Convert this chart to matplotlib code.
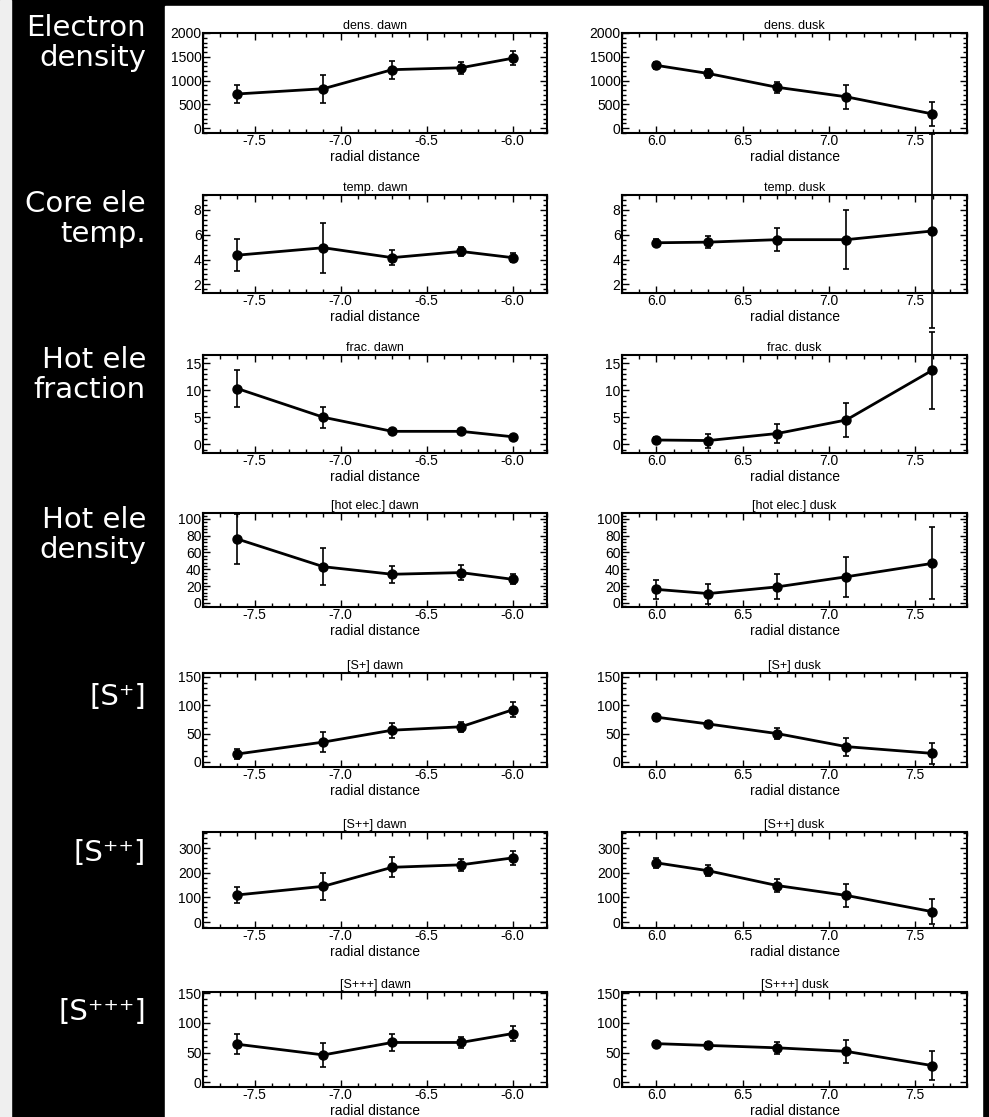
import matplotlib.pyplot as plt
from matplotlib.patches import Rectangle
from matplotlib.ticker import MultipleLocator, AutoMinorLocator

W, H = 989, 1117

# radial distance of the bins
x_dawn = [-7.6, -7.1, -6.7, -6.3, -6.0]
x_dusk = [6.0, 6.3, 6.7, 7.1, 7.6]

dens_dawn = [720, 830, 1230, 1270, 1470]
dens_dawn_err = [190, 290, 190, 130, 150]
dens_dusk = [1320, 1150, 860, 660, 300]
dens_dusk_err = [80, 90, 110, 250, 260]

temp_dawn = [4.35, 4.95, 4.15, 4.65, 4.15]
temp_dawn_err = [1.3, 2.0, 0.6, 0.35, 0.35]
temp_dusk = [5.35, 5.4, 5.6, 5.6, 6.3]
temp_dusk_err = [0.3, 0.5, 0.95, 2.4, 7.8]

frac_dawn = [10.3, 5.0, 2.4, 2.4, 1.4]
frac_dawn_err = [3.4, 1.9, 0.5, 0.5, 0.4]
frac_dusk = [0.8, 0.7, 2.0, 4.5, 13.7]
frac_dusk_err = [0.6, 1.3, 1.8, 3.2, 7.1]

hot_dawn = [76, 43, 34, 36, 28]
hot_dawn_err = [30, 22, 10, 9, 6]
hot_dusk = [16, 11, 19, 31, 47]
hot_dusk_err = [11, 12, 15, 24, 43]

sp_dawn = [14, 35, 56, 62, 92]
sp_dawn_err = [8, 17, 13, 9, 13]
sp_dusk = [79, 67, 50, 27, 15]
sp_dusk_err = [6, 6, 9, 16, 18]

s2p_dawn = [110, 145, 222, 232, 260]
s2p_dawn_err = [31, 55, 40, 25, 28]
s2p_dusk = [240, 208, 148, 108, 42]
s2p_dusk_err = [20, 22, 25, 45, 50]

s3p_dawn = [64, 46, 67, 67, 82]
s3p_dawn_err = [17, 20, 15, 10, 12]
s3p_dusk = [65, 62, 58, 52, 28]
s3p_dusk_err = [5, 6, 10, 20, 25]

row_labels = ["Electron\ndensity", "Core ele\ntemp.", "Hot ele\nfraction",
              "Hot ele\ndensity", "[S\u207a]", "[S\u207a\u207a]", "[S\u207a\u207a\u207a]"]
row_names = ["dens.", "temp.", "frac.", "[hot elec.]", "[S+]", "[S++]", "[S+++]"]
dawn_vals = [dens_dawn, temp_dawn, frac_dawn, hot_dawn, sp_dawn, s2p_dawn, s3p_dawn]
dawn_errs = [dens_dawn_err, temp_dawn_err, frac_dawn_err, hot_dawn_err,
             sp_dawn_err, s2p_dawn_err, s3p_dawn_err]
dusk_vals = [dens_dusk, temp_dusk, frac_dusk, hot_dusk, sp_dusk, s2p_dusk, s3p_dusk]
dusk_errs = [dens_dusk_err, temp_dusk_err, frac_dusk_err, hot_dusk_err,
             sp_dusk_err, s2p_dusk_err, s3p_dusk_err]
ylims = [(-100, 2000), (1.3, 9.2), (-1.6, 16.5), (-5, 107), (-9, 157), (-24, 365), (-8, 152)]
ysteps = [500, 2, 5, 20, 50, 100, 50]

# axes boxes in pixels (top, bottom)
rows_px = [(33, 133), (195, 293), (355, 453), (513, 607), (673, 767), (832, 928), (992, 1087)]
label_y = [43, 219, 375, 535, 697, 853, 1012]

plt.rcParams['font.family'] = ['Liberation Sans Narrow', 'Liberation Sans']

fig = plt.figure(figsize=(W / 100, H / 100), dpi=100, facecolor='black')
fig.patches.append(Rectangle((0, 0), 11 / W, 1, transform=fig.transFigure,
                             color='#efefef', zorder=-5))
fig.patches.append(Rectangle((165 / W, 0), (982 - 165) / W, 1 - 6 / H,
                             transform=fig.transFigure, color='white', zorder=-5))


def panel(ax, x, y, err, title, ylim, ystep, xlim, xticks):
    eb = ax.errorbar(x, y, yerr=err, color='black', lw=2, marker='o', ms=6.5,
                     elinewidth=1.2, capsize=2, capthick=1.2)
    for a in eb.get_children():
        a.set_clip_on(False)
    ax.set_xlim(xlim)
    ax.set_xticks(xticks)
    ax.set_xticklabels(['%.1f' % t for t in xticks])
    ax.xaxis.set_minor_locator(MultipleLocator(0.1))
    ax.yaxis.set_major_locator(MultipleLocator(ystep))
    ax.yaxis.set_minor_locator(AutoMinorLocator(5))
    ax.set_ylim(ylim)
    ax.tick_params(which='both', direction='in', top=True, right=True,
                   labelsize=10, pad=1, width=1)
    ax.tick_params(which='major', length=5)
    ax.tick_params(which='minor', length=3)
    ax.set_title(title, fontsize=9, pad=3)
    ax.set_xlabel('radial distance', fontsize=10, labelpad=1)
    for s in ax.spines.values():
        s.set_linewidth(1.5)


for i in range(7):
    top, bot = rows_px[i]
    for left, right, x, vals, errs, side, xlim, xticks in [
            (203, 547, x_dawn, dawn_vals, dawn_errs, 'dawn', (-7.8, -5.8), [-7.5, -7.0, -6.5, -6.0]),
            (622, 967, x_dusk, dusk_vals, dusk_errs, 'dusk', (5.8, 7.8), [6.0, 6.5, 7.0, 7.5])]:
        ax = fig.add_axes([left / W, 1 - bot / H, (right - left) / W, (bot - top) / H])
        panel(ax, x, vals[i], errs[i], row_names[i] + ' ' + side,
              ylims[i], ysteps[i], xlim, xticks)
    fig.text(146 / W, 1 - label_y[i] / H, row_labels[i], ha='right', va='center',
             color='white', fontsize=21, linespacing=1.05, family='DejaVu Sans')

fig.savefig('out.png', dpi=100, facecolor=fig.get_facecolor())
